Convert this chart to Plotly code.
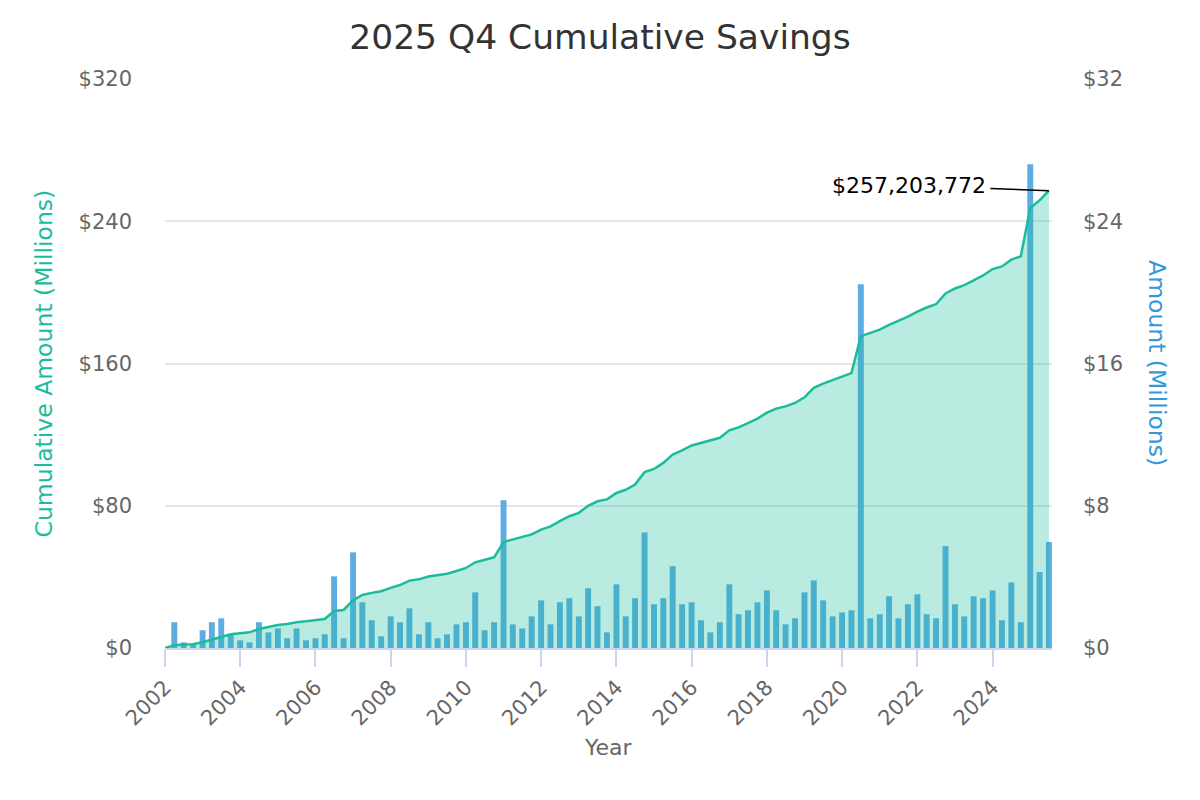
import pandas as pd
import plotly.graph_objects as go

# ---- data ----
start_date = "2002-01-01"
bar_dates = pd.date_range("2002-04-01", periods=94, freq="QS").strftime("%Y-%m-%d").tolist()

quarterly_amount_m = [
    1.45, 0.32, 0.25, 1.0, 1.45, 1.67, 0.8, 0.43, 0.32, 1.45,
    0.88, 1.1, 0.55, 1.1, 0.43, 0.55, 0.77, 4.03, 0.55, 5.38,
    2.57, 1.56, 0.66, 1.78, 1.45, 2.23, 0.77, 1.45, 0.55, 0.77,
    1.33, 1.45, 3.13, 1.0, 1.45, 8.31, 1.33, 1.1, 1.78, 2.68,
    1.33, 2.57, 2.8, 1.78, 3.36, 2.35, 0.88, 3.58, 1.78, 2.8,
    6.5, 2.46, 2.8, 4.6, 2.46, 2.57, 1.56, 0.88, 1.45, 3.58,
    1.9, 2.12, 2.57, 3.24, 2.12, 1.33, 1.67, 3.13, 3.8, 2.68,
    1.78, 2.0, 2.12, 20.45, 1.67, 1.9, 2.91, 1.67, 2.46, 3.02,
    1.9, 1.67, 5.73, 2.46, 1.78, 2.91, 2.8, 3.24, 1.56, 3.69,
    1.45, 27.2, 4.27, 5.96,
]

cumulative_m = [
    0.0,
    1.6, 1.9, 2.1, 3.2, 4.7, 6.4, 7.7, 8.3, 8.8, 10.7,
    11.8, 12.9, 13.5, 14.5, 15.0, 15.6, 16.3, 20.8, 21.4, 26.8,
    29.8, 31.0, 31.9, 33.8, 35.4, 37.9, 38.6, 40.2, 40.9, 41.8,
    43.3, 45.0, 48.2, 49.5, 51.0, 59.6, 61.0, 62.1, 63.9, 66.6,
    68.4, 71.4, 74.1, 76.0, 80.0, 82.5, 83.6, 87.2, 89.0, 91.9,
    98.9, 100.7, 104.1, 108.8, 111.1, 113.9, 115.4, 116.7, 118.2, 122.4,
    124.1, 126.5, 129.0, 132.4, 134.6, 135.9, 137.8, 141.0, 146.3, 148.7,
    150.6, 152.5, 154.6, 175.4, 177.0, 179.0, 181.7, 183.9, 186.4, 189.2,
    191.5, 193.3, 199.4, 202.2, 204.1, 206.7, 209.5, 213.1, 214.6, 218.4,
    220.3, 247.5, 251.7, 257.203772,
]
line_dates = [start_date] + bar_dates

year_ticks = [str(y) for y in range(2002, 2026, 2)]
final_label = "$257,203,772"

title_text = "2025 Q4 Cumulative Savings"
left_title = "Cumulative Amount (Millions)"
right_title = "Amount (Millions)"
x_title = "Year"

# ---- styles ----
FONT = "DejaVu Sans"
BAR_COLOR = "#5DADE2"
LINE_COLOR = "#1ABC9C"
GRID = "#e6e6e6"
AXIS = "#ccd6eb"
LABEL = "#666666"

# page body has an 8px margin; plot area placed to match reference
PL, PR, PT, PB = 157, 1043.6, 71, 640.4
PW, PH = PR - PL, PB - PT

fig = go.Figure()
fig.add_trace(go.Bar(
    x=bar_dates, y=quarterly_amount_m, yaxis="y",
    marker=dict(color=BAR_COLOR, line=dict(width=0)),
    name="Amount", hoverinfo="x+y",
))
fig.add_trace(go.Scatter(
    x=line_dates, y=cumulative_m, yaxis="y2",
    mode="lines", line=dict(color=LINE_COLOR, width=2.5),
    fill="tozeroy", fillcolor="rgba(26,188,156,0.3)",
    name="Cumulative",
))

fig.update_layout(
    width=1200, height=800,
    margin=dict(l=PL, r=1200 - PR, t=PT, b=800 - PB),
    paper_bgcolor="white", plot_bgcolor="white",
    showlegend=False,
    bargap=0.36,
    font=dict(family=FONT, color=LABEL),
    title=dict(text=title_text, x=592 / 1200, xref="container", xanchor="center",
               y=1 - 29 / 800, yref="container", yanchor="middle",
               font=dict(family=FONT, size=34.5, color="#333333")),
    xaxis=dict(
        type="date",
        range=["2002-01-01", "2025-07-31"],
        tickvals=[f"{y}-01-01" for y in year_ticks],
        ticktext=year_ticks,
        tickangle=-45,
        ticks="outside", ticklen=17, tickcolor=AXIS, tickwidth=1.5,
        showline=True, linecolor=AXIS, linewidth=1.5,
        showgrid=False, zeroline=False,
        tickfont=dict(family=FONT, size=21, color=LABEL),
    ),
    yaxis=dict(
        side="right", range=[0, 32], dtick=8, tickprefix="$",
        showgrid=True, gridcolor=GRID, gridwidth=1.5, zeroline=False,
        ticks="", ticklabelstandoff=30,
        tickfont=dict(family=FONT, size=21, color=LABEL),
    ),
    yaxis2=dict(
        overlaying="y", side="left", range=[0, 320], dtick=80, tickprefix="$",
        showgrid=False, zeroline=False,
        ticks="", ticklabelstandoff=32,
        tickfont=dict(family=FONT, size=21, color=LABEL),
    ),
    annotations=[
        dict(x=bar_dates[-1], y=cumulative_m[-1], xref="x", yref="y2",
             text=final_label, showarrow=True, arrowhead=0, arrowwidth=1.5,
             arrowcolor="#000000", ax=-140, ay=-5, standoff=0, borderpad=4,
             font=dict(family=FONT, size=22, color="#000000")),
        dict(x=(44 - 165) / PW, y=0.5, xref="paper", yref="paper",
             text=left_title, showarrow=False, textangle=-90,
             xanchor="center", yanchor="middle",
             font=dict(family=FONT, size=23.5, color=LINE_COLOR)),
        dict(x=(1157 - 165) / PW, y=0.5, xref="paper", yref="paper",
             text=right_title, showarrow=False, textangle=90,
             xanchor="center", yanchor="middle",
             font=dict(family=FONT, size=23.5, color="#3498DB")),
        dict(x=0.5, y=(648.4 - 748) / PH, xref="paper", yref="paper",
             text=x_title, showarrow=False,
             xanchor="center", yanchor="middle",
             font=dict(family=FONT, size=22, color=LABEL)),
    ],
)

fig.write_html("out.html")
